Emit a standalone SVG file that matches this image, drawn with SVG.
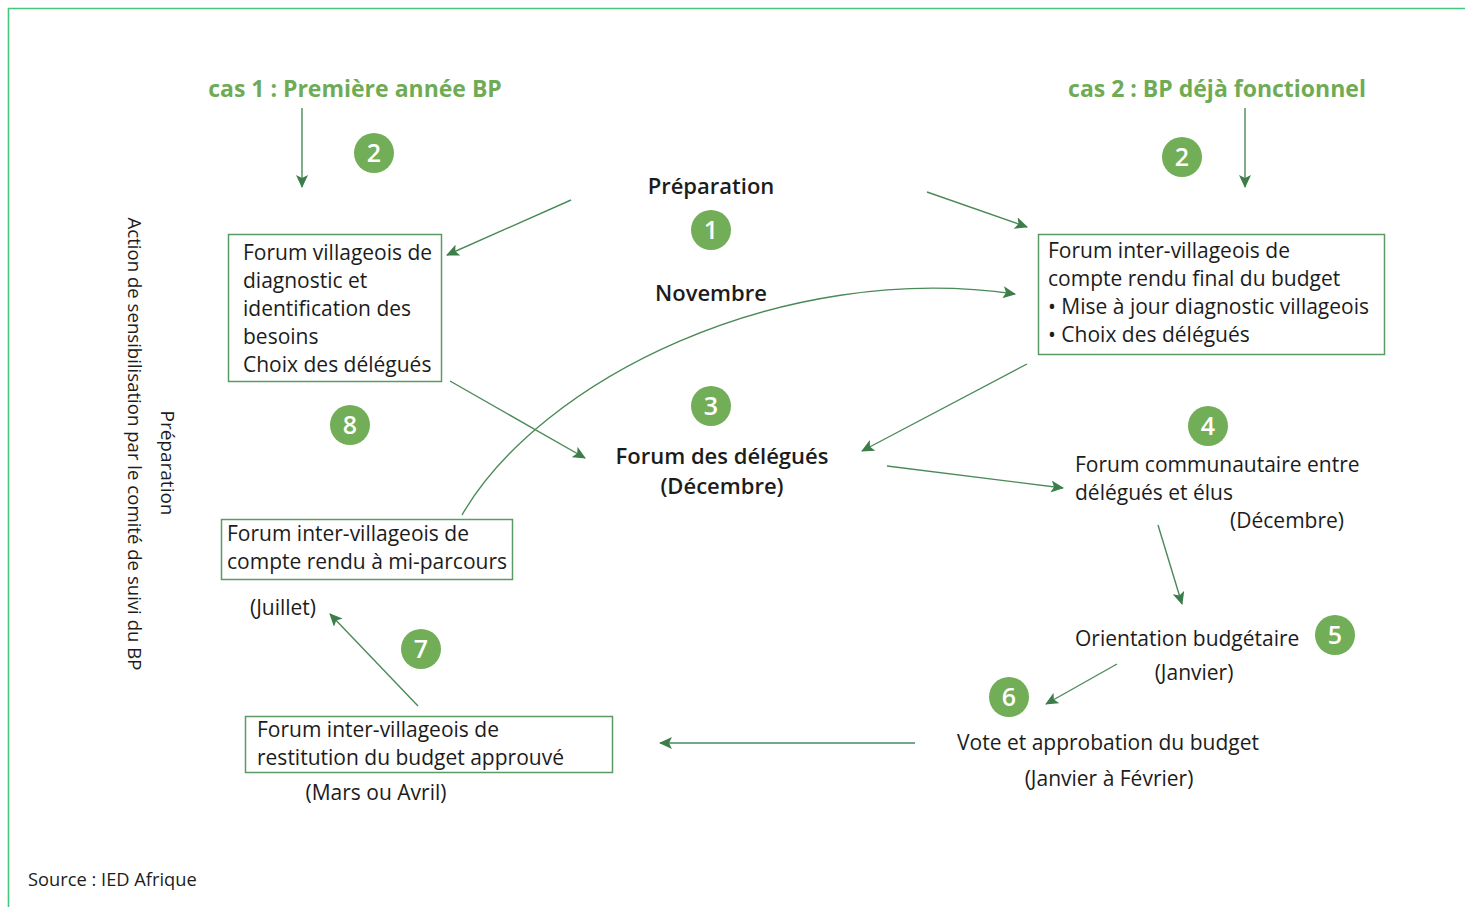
<svg xmlns="http://www.w3.org/2000/svg" width="1465" height="907" viewBox="0 0 1465 907">
<defs>
<marker id="ah" markerWidth="14" markerHeight="12" refX="12" refY="6" orient="auto" markerUnits="userSpaceOnUse">
<path d="M0,0 L13,6 L0,12 L3,6 Z" fill="#3c7d4a"/>
</marker>
<style>
.t{font-family:"Open Sans","Noto Sans",sans-serif;font-size:21px;fill:#1c1c1c}
.s{font-family:"Open Sans","Noto Sans",sans-serif;font-size:18.6px;fill:#1c1c1c}
.b{font-family:"Open Sans","Noto Sans",sans-serif;font-size:22px;font-weight:600;fill:#1c1c1c}
.g{font-family:"Open Sans","Noto Sans",sans-serif;font-size:23px;font-weight:700;fill:#6fab55}
.box{fill:none;stroke:#5b9a63;stroke-width:1.5}
.c{fill:#72ad57}
.n{font-family:"Open Sans","Noto Sans",sans-serif;font-size:25px;font-weight:600;fill:#fff;text-anchor:middle}
.e{fill:none;stroke:#4a8a58;stroke-width:1.4;marker-end:url(#ah)}
</style>
</defs>
<rect width="1465" height="907" fill="#fff"/>
<g id="frame">
<path d="M8.5,907 V8.5 H1465" fill="none" stroke="#45c67f" stroke-width="1.6"/>
</g>
<g id="titles">
<text class="g" x="355" y="97" text-anchor="middle">cas 1 : Première année BP</text>
<text class="g" x="1217" y="97" text-anchor="middle">cas 2 : BP déjà fonctionnel</text>
</g>
<g id="side-labels">
<text class="s" transform="translate(128,444) rotate(90)" text-anchor="middle">Action de sensibilisation par le comité de suivi du BP</text>
<text class="s" transform="translate(161,463) rotate(90)" text-anchor="middle" style="font-size:19px">Préparation</text>
</g>
<g id="connectors">
<path class="e" d="M302,108 V187"/>
<path class="e" d="M1245,108 V187"/>
<path class="e" d="M571,200 L447,255"/>
<path class="e" d="M927,192 L1027,227"/>
<path class="e" d="M450,381 L585,458"/>
<path class="e" d="M462,515 C540,380 780,260 1015,294"/>
<path class="e" d="M1027,364 L862,451"/>
<path class="e" d="M887,466 L1063,488"/>
<path class="e" d="M1158,525 L1182,604"/>
<path class="e" d="M1117,664 L1046,704"/>
<path class="e" d="M915,743 L660,743"/>
<path class="e" d="M418,706 L330,614"/>
</g>
<g id="step1">
<text class="b" x="711" y="194" text-anchor="middle">Préparation</text>
<circle class="c" cx="711" cy="230" r="20"/>
<text class="n" x="711" y="239">1</text>
<text class="b" x="711" y="301" text-anchor="middle">Novembre</text>
</g>
<g id="step2-left">
<circle class="c" cx="374" cy="153" r="20"/>
<text class="n" x="374" y="162">2</text>
<rect class="box" x="228.5" y="234.5" width="213" height="147"/>
<text class="t" x="243" y="260">Forum villageois de</text>
<text class="t" x="243" y="288">diagnostic et</text>
<text class="t" x="243" y="316">identification des</text>
<text class="t" x="243" y="344">besoins</text>
<text class="t" x="243" y="372">Choix des délégués</text>
</g>
<g id="step2-right">
<circle class="c" cx="1182" cy="157" r="20"/>
<text class="n" x="1182" y="166">2</text>
<rect class="box" x="1038.5" y="234.5" width="346" height="120"/>
<text class="t" x="1048" y="258">Forum inter-villageois de</text>
<text class="t" x="1048" y="286">compte rendu final du budget</text>
<text class="t" x="1048" y="314">• Mise à jour diagnostic villageois</text>
<text class="t" x="1048" y="342">• Choix des délégués</text>
</g>
<g id="step3">
<circle class="c" cx="711" cy="406" r="20"/>
<text class="n" x="711" y="415">3</text>
<text class="b" x="722" y="464" text-anchor="middle">Forum des délégués</text>
<text class="b" x="722" y="494" text-anchor="middle">(Décembre)</text>
</g>
<g id="step4">
<circle class="c" cx="1208" cy="426" r="20"/>
<text class="n" x="1208" y="435">4</text>
<text class="t" x="1075" y="472">Forum communautaire entre</text>
<text class="t" x="1075" y="500">délégués et élus</text>
<text class="t" x="1344" y="528" text-anchor="end">(Décembre)</text>
</g>
<g id="step5">
<circle class="c" cx="1335" cy="635" r="20"/>
<text class="n" x="1335" y="644">5</text>
<text class="t" x="1075" y="646">Orientation budgétaire</text>
<text class="t" x="1194" y="680" text-anchor="middle">(Janvier)</text>
</g>
<g id="step6">
<circle class="c" cx="1009" cy="697" r="20"/>
<text class="n" x="1009" y="706">6</text>
<text class="t" x="1108" y="750" text-anchor="middle">Vote et approbation du budget</text>
<text class="t" x="1109" y="786" text-anchor="middle">(Janvier à Février)</text>
</g>
<g id="step7">
<circle class="c" cx="421" cy="649" r="20"/>
<text class="n" x="421" y="658">7</text>
<rect class="box" x="245.5" y="716.5" width="367" height="56"/>
<text class="t" x="257" y="737">Forum inter-villageois de</text>
<text class="t" x="257" y="765">restitution du budget approuvé</text>
<text class="t" x="376" y="800" text-anchor="middle">(Mars ou Avril)</text>
</g>
<g id="step8">
<circle class="c" cx="350" cy="425" r="20"/>
<text class="n" x="350" y="434">8</text>
<rect class="box" x="221.5" y="519.5" width="291" height="60"/>
<text class="t" x="227" y="541">Forum inter-villageois de</text>
<text class="t" x="227" y="569">compte rendu à mi-parcours</text>
<text class="t" x="283" y="615" text-anchor="middle">(Juillet)</text>
</g>
<g id="source">
<text class="s" x="28" y="886" style="font-size:18.3px">Source : IED Afrique</text>
</g>
</svg>
